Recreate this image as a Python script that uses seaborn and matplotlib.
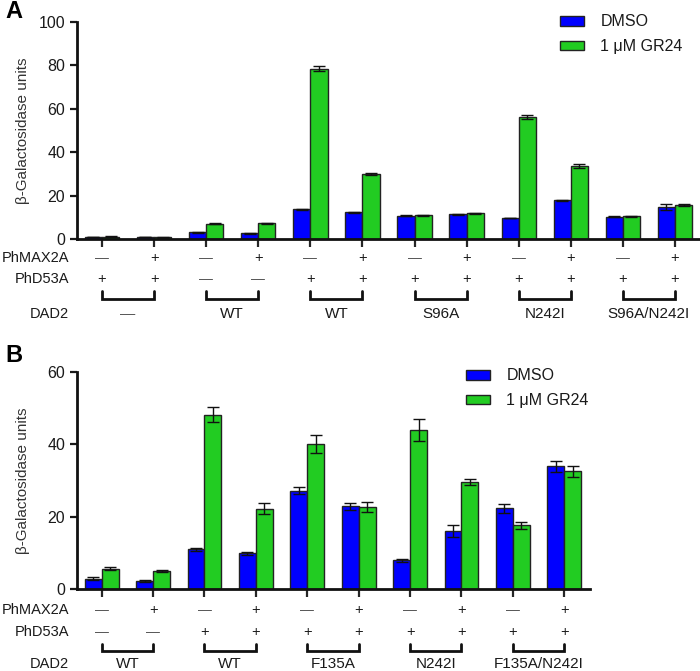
import numpy as np
import pandas as pd
import matplotlib
matplotlib.use("Agg")
import matplotlib.pyplot as plt
import matplotlib.transforms as mtransforms
import seaborn as sns

# ---------------- data ----------------
treatments = ["DMSO", "1 \u03bcM GR24"]

dmso_a = [1.0, 0.8, 3.1, 2.6, 13.6, 12.4, 10.7, 11.4, 9.7, 17.8, 10.2, 14.7]
dmso_a_err = [0.1, 0.1, 0.2, 0.1, 0.3, 0.2, 0.2, 0.2, 0.2, 0.3, 0.2, 1.3]
gr24_a = [1.0, 0.7, 7.0, 7.3, 78.4, 30.0, 11.0, 11.9, 56.4, 33.5, 10.5, 15.5]
gr24_a_err = [0.2, 0.1, 0.2, 0.3, 1.2, 0.6, 0.2, 0.2, 0.9, 0.9, 0.2, 0.5]

dmso_b = [2.9, 2.2, 11.0, 9.9, 27.2, 22.9, 7.9, 16.1, 22.3, 33.9]
dmso_b_err = [0.3, 0.2, 0.4, 0.4, 1.0, 1.0, 0.3, 1.6, 1.3, 1.6]
gr24_b = [5.6, 4.9, 48.2, 22.2, 40.2, 22.6, 44.0, 29.5, 17.6, 32.6]
gr24_b_err = [0.4, 0.3, 2.0, 1.5, 2.5, 1.4, 3.0, 0.8, 1.0, 1.5]

DASH = "\u2014"
max2a_a = [DASH, "+"] * 6
d53a_a = ["+", "+", DASH, DASH, "+", "+", "+", "+", "+", "+", "+", "+"]
dad2_a = [DASH, "WT", "WT", "S96A", "N242I", "S96A/N242I"]

max2a_b = [DASH, "+"] * 5
d53a_b = [DASH, DASH, "+", "+", "+", "+", "+", "+", "+", "+"]
dad2_b = ["WT", "WT", "F135A", "N242I", "F135A/N242I"]

colors = ["#0000ff", "#22cc22"]

sns.set_style("ticks")
plt.rcParams["font.family"] = ["Liberation Sans", "DejaVu Sans"]
plt.rcParams["text.color"] = "#1a1a1a"

W, H = 700, 671
fig = plt.figure(figsize=(7, 6.71), dpi=100)


def fy(py):
    return 1 - py / H


def panel(rect, dmso, dmso_err, gr24, gr24_err, ymax, yticks,
          max2a, d53a, dad2, rows_py, leg_py, leg_px, letter, letter_py):
    ax = fig.add_axes(rect)
    n = len(dmso)
    df = pd.DataFrame({
        "group": [str(i) for i in range(n)] * 2,
        "value": dmso + gr24,
        "treatment": [treatments[0]] * n + [treatments[1]] * n,
    })
    sns.barplot(data=df, x="group", y="value", hue="treatment",
                palette=colors, saturation=1, width=0.66, errorbar=None,
                edgecolor="#222222", linewidth=1.0, ax=ax)
    for cont, errs in zip(ax.containers, [dmso_err, gr24_err]):
        xs = [b.get_x() + b.get_width() / 2 for b in cont]
        ys = [b.get_height() for b in cont]
        ax.errorbar(xs, ys, yerr=errs, fmt="none", ecolor="#111111",
                    elinewidth=1.0, capsize=4, capthick=1.0, zorder=5)

    ax.set_xlim(-0.48, n - 0.5)
    ax.set_ylim(0, ymax)
    ax.set_yticks(yticks)
    ax.tick_params(axis="y", labelsize=11.5, width=1.6, length=5,
                   colors="#1a1a1a")
    ax.tick_params(axis="x", labelbottom=False, width=1.6, length=6)
    ax.set_xlabel("")
    ax.set_ylabel("\u03b2-Galactosidase units", fontsize=11, color="#333333")
    ax.yaxis.set_label_coords(-47 / (rect[2] * W), 0.5)
    for s in ["left", "bottom"]:
        ax.spines[s].set_linewidth(2.0)
        ax.spines[s].set_color("#111111")
    sns.despine(ax=ax)

    # legend
    handles, labels = ax.get_legend_handles_labels()
    ax.legend(handles, labels, loc="upper left",
              bbox_to_anchor=(leg_px / W, fy(leg_py)),
              bbox_transform=fig.transFigure, frameon=False,
              fontsize=11.5, handlelength=1.5, handleheight=0.55,
              handletextpad=1.0, labelspacing=0.6, borderaxespad=0)

    # annotation rows under the axis
    trans = mtransforms.blended_transform_factory(ax.transData, fig.transFigure)
    y_max2a, y_d53a, y_br_top, y_br_bot, y_dad2 = rows_py
    fig.text(69 / W, fy(y_max2a), "PhMAX2A", ha="right", va="center", fontsize=10.5)
    fig.text(69 / W, fy(y_d53a), "PhD53A", ha="right", va="center", fontsize=10.5)
    fig.text(69 / W, fy(y_dad2), "DAD2", ha="right", va="center", fontsize=10.5)
    for i in range(n):
        for lab, py in [(max2a[i], y_max2a), (d53a[i], y_d53a)]:
            ax.text(i, fy(py), lab, transform=trans, ha="center", va="center",
                    fontsize=10.5 if lab == "+" else 10, clip_on=False,
                    color="#1a1a1a" if lab == "+" else "#555555")
    for k, lab in enumerate(dad2):
        i0, i1 = 2 * k, 2 * k + 1
        ax.plot([i0, i0, i1, i1], [fy(y_br_top), fy(y_br_bot), fy(y_br_bot), fy(y_br_top)],
                transform=trans, color="#111111", lw=2.0, clip_on=False,
                solid_joinstyle="miter")
        ax.text((i0 + i1) / 2, fy(y_dad2), lab, transform=trans, ha="center",
                va="center", fontsize=11, clip_on=False,
                color="#1a1a1a" if lab != DASH else "#555555")

    fig.text(5 / W, fy(letter_py), letter, fontsize=17, fontweight="bold",
             ha="left", va="center", color="black")
    return ax


# panel A: axis from x=77 to 701 px, y 22..239 px
panel([77 / W, fy(239), 624 / W, 217 / H],
      dmso_a, dmso_a_err, gr24_a, gr24_a_err, 100, [0, 20, 40, 60, 80, 100],
      max2a_a, d53a_a, dad2_a, (258, 279, 291, 299, 314),
      8, 554, "A", 12)

# panel B: axis from x=77 to 590 px, y 372..589 px
panel([77 / W, fy(589), 513 / W, 217 / H],
      dmso_b, dmso_b_err, gr24_b, gr24_b_err, 60, [0, 20, 40, 60],
      max2a_b, d53a_b, dad2_b, (610, 632, 644, 651, 664),
      362, 460, "B", 355)

fig.savefig("out.png", dpi=100)
